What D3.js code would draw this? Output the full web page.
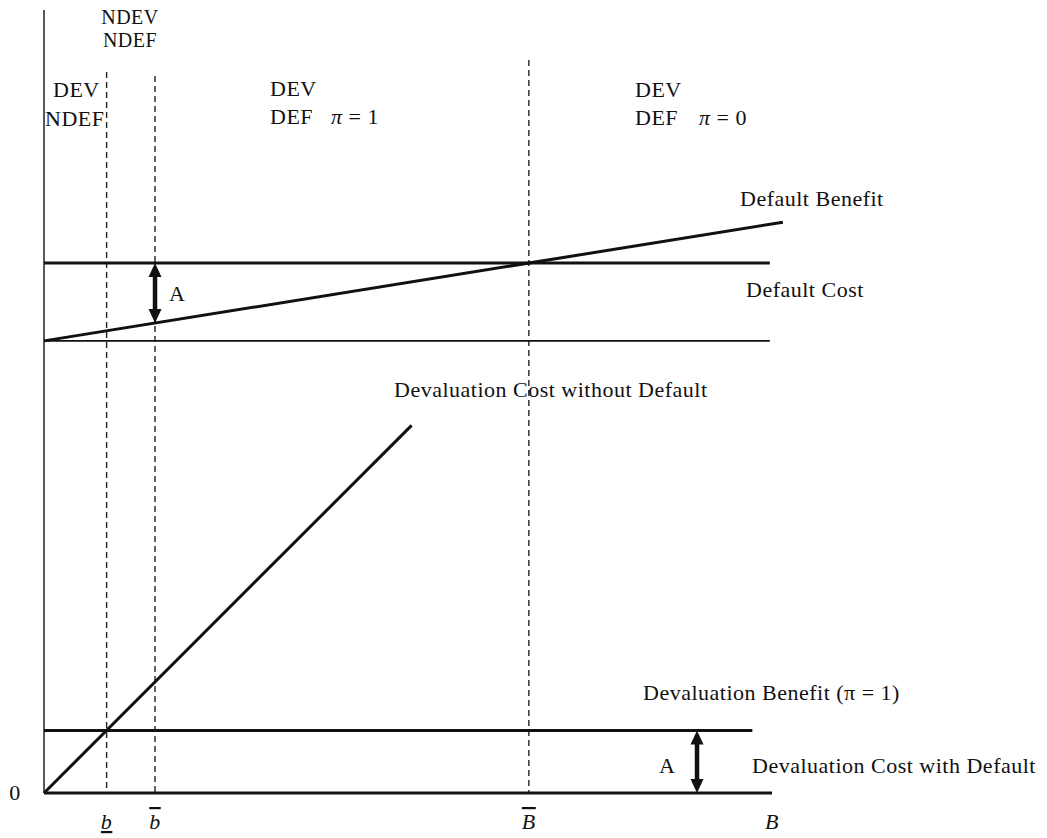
<!DOCTYPE html>
<html>
<head>
<meta charset="utf-8">
<script src="https://cdn.jsdelivr.net/npm/d3@7"></script>
<style>
  body { margin: 0; background: #fff; }
  text { font-family: "Liberation Serif", "DejaVu Serif", serif; font-size: 22px; fill: #111; letter-spacing: 0.5px; }
</style>
</head>
<body>
<div class="chart"></div>
<script>
// thresholds on the debt axis: b, b-bar, B-bar
var thresholds = [8.6, 15.25, 66.6];
var tickValues = [8.6, 15.25, 66.6, 100];
var tickLabels = ["b", "b", "B", "B"];
var tickDeco = ["underline", "overline", "overline", "none"];

// levels of the curves
var defaultCost = 72.8;
var defaultBenefitStart = 62.1;
var defaultBenefitEnd = 78.4;
var devalBenefit = 8.6;
var devalCostWithDefault = 0;

// x ranges of each curve
var defaultBenefitX = [0, 101.5];
var defaultCostX = [0, 99.7];
var baseLineX = [0, 99.7];
var devalCostNoDefX = [0, 50.5];
var devalBenefitX = [0, 97.3];
var devalCostWithDefX = [0, 100];

// the two "A" gaps
var gapX = [15.25, 89.7];

var width = 1047, height = 838;

var svg = d3.select(".chart")
  .append("svg")
    .attr("width", width)
    .attr("height", height);

var x = d3.scaleLinear().domain([0, 100]).range([44, 772]);
var y = d3.scaleLinear().domain([0, 107.55]).range([793, 10]);

// vertical axis
svg.append("line")
  .attr("x1", x(0)).attr("x2", x(0))
  .attr("y1", y(0)).attr("y2", y(107.55))
  .attr("stroke", "#222").attr("stroke-width", 1.5);

// dashed region borders
var dashTop = [72, 76, 60];
svg.selectAll(".dash")
  .data(thresholds)
  .enter()
  .append("line")
    .attr("class", "dash")
    .attr("x1", function(d) { return x(d); })
    .attr("x2", function(d) { return x(d); })
    .attr("y1", function(d, i) { return dashTop[i]; })
    .attr("y2", y(0))
    .attr("stroke", "#222")
    .attr("stroke-width", 1.4)
    .attr("stroke-dasharray", "6,4");

var line = d3.line()
  .x(function(d) { return x(d[0]); })
  .y(function(d) { return y(d[1]); });

var curves = [
  {pts: [[defaultBenefitX[0], defaultBenefitStart], [defaultBenefitX[1], defaultBenefitEnd]], w: 3},
  {pts: [[defaultCostX[0], defaultCost], [defaultCostX[1], defaultCost]], w: 3},
  {pts: [[baseLineX[0], defaultBenefitStart], [baseLineX[1], defaultBenefitStart]], w: 1.6},
  {pts: [[devalCostNoDefX[0], devalCostNoDefX[0]], [devalCostNoDefX[1], devalCostNoDefX[1]]], w: 3},
  {pts: [[devalBenefitX[0], devalBenefit], [devalBenefitX[1], devalBenefit]], w: 3},
  {pts: [[devalCostWithDefX[0], devalCostWithDefault], [devalCostWithDefX[1], devalCostWithDefault]], w: 3}
];

svg.selectAll(".curve")
  .data(curves)
  .enter()
  .append("path")
    .attr("class", "curve")
    .attr("d", function(d) { return line(d.pts); })
    .attr("fill", "none")
    .attr("stroke", "#111")
    .attr("stroke-width", function(d) { return d.w; });

// double arrows for A
function benefitAt(v) {
  return defaultBenefitStart + (defaultBenefitEnd - defaultBenefitStart) * v / defaultBenefitX[1];
}
var arrows = [
  {x: gapX[0], top: defaultCost, bot: benefitAt(gapX[0])},
  {x: gapX[1], top: devalBenefit, bot: devalCostWithDefault}
];

function dblArrow(g, d) {
  var px = x(d.x), t = y(d.top), b = y(d.bot), hl = 14, hw = 6.5;
  g.append("line")
    .attr("x1", px).attr("x2", px)
    .attr("y1", t + hl - 2).attr("y2", b - hl + 2)
    .attr("stroke", "#111").attr("stroke-width", 4.5);
  g.append("path")
    .attr("d", "M" + px + "," + t + "L" + (px - hw) + "," + (t + hl) + "L" + (px + hw) + "," + (t + hl) + "Z")
    .attr("fill", "#111");
  g.append("path")
    .attr("d", "M" + px + "," + b + "L" + (px - hw) + "," + (b - hl) + "L" + (px + hw) + "," + (b - hl) + "Z")
    .attr("fill", "#111");
}
arrows.forEach(function(d) { dblArrow(svg.append("g"), d); });

svg.append("text").attr("x", x(gapX[0]) + 14).attr("y", 301).text("A");
svg.append("text").attr("x", x(gapX[1]) - 38).attr("y", 773).text("A");

// tick labels
svg.selectAll(".tick")
  .data(tickValues)
  .enter()
  .append("text")
    .attr("class", "tick")
    .attr("x", function(d) { return x(d); })
    .attr("y", 829)
    .attr("text-anchor", "middle")
    .style("font-style", "italic")
    .style("text-decoration", function(d, i) { return tickDeco[i]; })
    .text(function(d, i) { return tickLabels[i]; });

svg.append("text").attr("x", 15).attr("y", 800).attr("text-anchor", "middle").text("0");

// curve labels
var labels = [
  {t: "Default Benefit", x: 740, y: 206},
  {t: "Default Cost", x: 746, y: 297},
  {t: "Devaluation Cost without Default", x: 394, y: 397},
  {t: "Devaluation Benefit (\u03c0 = 1)", x: 643, y: 700},
  {t: "Devaluation Cost with Default", x: 752, y: 773}
];
svg.selectAll(".lab")
  .data(labels)
  .enter()
  .append("text")
    .attr("class", "lab")
    .attr("x", function(d) { return d.x; })
    .attr("y", function(d) { return d.y; })
    .text(function(d) { return d.t; });

// region labels
svg.append("text").attr("x", 130).attr("y", 24).attr("text-anchor", "middle").style("font-size", "20px").text("NDEV");
svg.append("text").attr("x", 130).attr("y", 47).attr("text-anchor", "middle").style("font-size", "20px").text("NDEF");
svg.append("text").attr("x", 53).attr("y", 97).text("DEV");
svg.append("text").attr("x", 45).attr("y", 126).text("NDEF");
svg.append("text").attr("x", 270).attr("y", 96).text("DEV");
var r2 = svg.append("text").attr("x", 270).attr("y", 124);
r2.append("tspan").text("DEF");
r2.append("tspan").attr("dx", 18).style("font-style", "italic").text("\u03c0");
r2.append("tspan").text(" = 1");
svg.append("text").attr("x", 635).attr("y", 97).text("DEV");
var r3 = svg.append("text").attr("x", 635).attr("y", 125);
r3.append("tspan").text("DEF");
r3.append("tspan").attr("dx", 21).style("font-style", "italic").text("\u03c0");
r3.append("tspan").text(" = 0");
</script>
</body>
</html>
